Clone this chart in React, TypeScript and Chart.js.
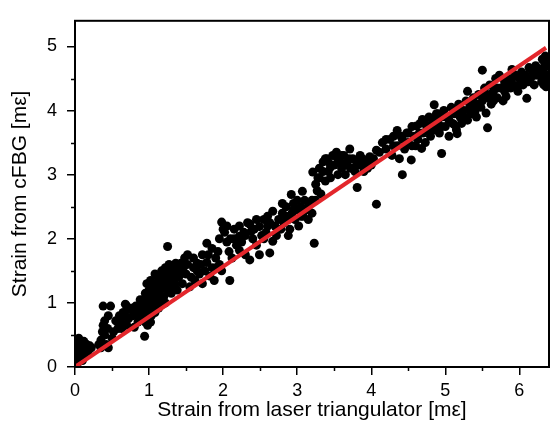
import React, { useEffect, useRef } from "react";
import { Chart, registerables } from "chart.js";

Chart.register(...registerables);

// Strain from laser triangulator [mε] (x) and strain from cFBG [mε] (y)
const laserStrain = [
  0.02, 0.03, 0.04, 0.05, 0.06, 0.08, 0.1, 0.12, 0.14, 0.16, 0.18, 0.2, 0.22, 0.05, 0.03, 0.1, 0.13, 0.07,
  0.32, 0.35, 0.37, 0.38, 0.4, 0.42, 0.45, 0.38, 0.48, 0.4, 0.44, 0.5, 0.52, 0.35,
  0.58, 0.6, 0.62, 0.65, 0.68, 0.7, 0.72, 0.75, 0.78, 0.8, 0.82, 0.85, 0.86, 0.7, 0.63,
  0.9, 0.9, 0.92, 0.95, 0.95, 0.97, 0.98, 1.0, 1.0, 1.0, 1.02, 1.03, 1.05, 1.05, 1.07, 1.08, 1.1, 1.1, 1.1, 1.12,
  1.13, 1.15, 1.15, 1.17, 1.18, 1.2, 1.2, 1.22, 1.23, 1.25, 1.25, 1.27, 1.28, 1.3, 1.3, 1.32, 1.33, 1.35, 1.37, 1.38,
  1.4, 1.02, 0.94, 1.13, 1.22, 0.88, 0.97, 1.08, 1.18,
  1.42, 1.45, 1.48, 1.5, 1.52, 1.55, 1.57, 1.6, 1.62, 1.65, 1.68, 1.7, 1.72, 1.75, 1.78, 1.78, 1.8, 1.82, 1.85, 1.88,
  1.9, 1.93, 1.95, 1.98, 1.25,
  1.98, 2.02, 2.05, 2.08, 2.1, 2.12, 2.15, 2.18, 2.22, 2.22, 2.22, 2.25, 2.28, 2.3, 2.33, 2.36, 2.36, 2.4, 2.42, 2.45,
  2.49, 2.49, 2.52, 2.55, 2.58, 2.6, 2.63, 2.63, 2.67, 2.7, 2.09, 1.95,
  2.72, 2.75, 2.78, 2.8, 2.82, 2.85, 2.88, 2.9, 2.92, 2.93, 2.95, 2.97, 3.0, 3.02, 3.05, 3.07, 3.08, 3.1, 3.12, 3.15,
  3.17, 3.2, 3.21, 3.23, 3.25, 3.25, 3.28, 3.3, 3.32, 3.35, 3.38, 3.4, 3.42, 3.45, 3.48, 3.5, 3.53, 3.55, 3.58, 3.6,
  3.63, 3.65, 3.68, 3.71, 3.72, 3.75, 3.78, 3.8, 3.81, 3.85, 3.88, 3.9, 3.93, 3.95, 3.98, 4.0, 4.03, 4.07, 4.07, 2.67,
  2.88,
  4.11, 4.15, 4.2, 4.25, 4.28, 4.3, 4.35, 4.35, 4.38, 4.42, 4.42, 4.45, 4.48, 4.5, 4.54, 4.55, 4.58, 4.6, 4.61, 4.63,
  4.66, 4.68, 4.69, 4.7, 4.73, 4.75, 4.78, 4.8, 4.82, 4.85, 4.85, 4.88, 4.9, 4.92, 4.95, 4.95, 4.98,
  5.0, 5.02, 5.05, 5.08, 5.1, 5.12, 5.15, 5.16, 5.18, 5.2, 5.22, 5.25, 5.28, 5.3, 5.3, 5.33, 5.35, 5.38, 5.4, 5.42,
  5.45, 5.48, 5.5, 5.5, 5.53, 5.55, 5.57, 5.58, 5.6, 5.62, 5.65, 5.68, 5.7, 5.73, 5.75, 5.78, 5.8, 5.82, 5.85, 5.88,
  5.9, 5.92, 5.95, 5.98, 6.0, 6.03, 6.05, 6.08, 6.1, 6.12, 6.13, 6.15, 6.18, 6.2, 6.22, 6.25, 6.28, 6.3, 6.31, 6.33,
  6.35, 6.36, 6.37, 6.35,
  0.92, 0.95, 0.98, 1.0, 1.03, 1.05, 1.07, 1.08, 1.12, 1.12, 1.15, 1.17, 1.2, 1.23, 1.26, 1.28, 1.3, 1.33, 1.35, 1.36,
  1.4, 1.43, 1.46, 0.78, 0.83, 0.68, 0.55, 0.45,
  1.52, 1.6, 1.65, 1.72, 1.85, 1.9, 2.0, 2.05, 2.15, 2.3, 2.38, 2.45, 2.55, 2.6,
  2.8, 2.85, 2.95, 3.0, 3.05, 3.1, 3.15, 3.2, 3.27, 3.3, 3.35, 3.38, 3.42, 3.45, 3.5, 3.55, 3.6, 3.65, 3.7, 3.75,
  3.85, 3.9,
  4.2, 4.3, 4.4, 4.5, 4.55, 4.65, 4.72, 4.78, 4.85, 4.9, 4.95,
  5.05, 5.12, 5.2, 5.25, 5.35, 5.4, 5.45, 5.52, 5.6, 5.65, 5.7, 5.8, 5.85, 5.9, 6.0, 6.05, 6.1, 6.15, 6.2, 6.25,
  6.3, 6.34, 6.36, 6.37, 6.33,
];

const cfbgStrain = [
  0.08, 0.15, 0.25, 0.35, 0.12, 0.2, 0.3, 0.4, 0.3, 0.35, 0.25, 0.33, 0.3, 0.45, 0.05, 0.1, 0.2, 0.3,
  0.35, 0.42, 0.55, 0.65, 0.5, 0.35, 0.3, 0.95, 0.95, 0.72, 0.6, 0.45, 0.55, 0.3,
  0.6, 0.8, 0.7, 0.85, 0.98, 0.65, 0.75, 0.9, 0.8, 0.62, 0.95, 0.7, 0.85, 0.95, 0.6,
  0.75, 0.95, 1.05, 0.85, 1.15, 1.3, 0.65, 0.9, 1.05, 1.2, 1.35, 0.8, 1.0, 1.15, 1.25, 1.45, 0.95, 1.1, 1.3, 1.4,
  1.2, 1.05, 1.35, 1.5, 1.25, 1.1, 1.4, 1.55, 1.3, 1.2, 1.45, 1.6, 1.35, 1.15, 1.5, 1.25, 1.42, 1.3, 1.55, 1.2,
  1.4, 0.7, 0.48, 0.92, 1.0, 1.05, 1.0, 0.85, 0.98,
  1.5, 1.3, 1.7, 1.45, 1.6, 1.25, 1.4, 1.55, 1.35, 1.5, 1.45, 1.6, 1.3, 1.5, 1.93, 1.63, 1.75, 1.42, 1.55, 1.35,
  1.7, 1.8, 1.6, 1.5, 1.88,
  2.26, 2.1, 1.95, 1.8, 2.0, 1.7, 2.15, 1.9, 2.2, 2.04, 1.82, 1.95, 2.1, 1.75, 2.25, 2.23, 1.67, 2.0, 2.15, 1.9,
  2.19, 1.75, 2.05, 2.3, 2.1, 2.35, 1.78, 2.25, 2.43, 2.2, 1.35, 2.0,
  2.05, 2.3, 2.15, 2.4, 2.25, 2.5, 2.3, 2.15, 2.69, 2.4, 2.55, 2.3, 2.45, 2.2, 2.5, 2.74, 2.35, 2.6, 2.45, 2.3,
  2.55, 2.4, 3.04, 1.93, 2.85, 2.6, 2.95, 3.1, 2.7, 3.2, 2.9, 3.25, 3.05, 2.95, 3.3, 3.15, 3.35, 3.0, 3.2, 3.1,
  3.3, 3.0, 3.2, 3.4, 3.1, 3.25, 3.05, 3.2, 2.8, 3.15, 3.25, 3.05, 3.2, 3.1, 3.28, 3.15, 3.25, 3.38, 2.54, 1.96,
  2.05,
  3.35, 3.5, 3.4, 3.55, 3.3, 3.6, 3.69, 3.45, 3.25, 3.0, 3.55, 3.4, 3.65, 3.5, 3.23, 3.75, 3.6, 3.45, 3.76, 3.55,
  3.8, 3.41, 3.86, 3.65, 3.5, 3.75, 3.9, 3.6, 3.8, 4.09, 3.7, 3.95, 3.8, 3.65, 3.33, 3.9, 4.0,
  3.75, 3.9, 3.6, 4.05, 3.8, 3.95, 3.7, 3.64, 4.1, 3.9, 3.8, 4.0, 4.15, 4.3, 3.85, 4.05, 3.95, 4.2, 4.1, 3.9,
  4.25, 4.05, 4.63, 4.15, 4.35, 3.96, 3.73, 4.2, 4.4, 4.1, 4.3, 4.5, 4.2, 4.55, 4.35, 4.15, 4.45, 4.22, 4.5, 4.35,
  4.64, 4.4, 4.55, 4.3, 4.5, 4.6, 4.4, 4.55, 4.19, 4.45, 4.67, 4.5, 4.6, 4.4, 4.7, 4.55, 4.65, 4.45, 4.8, 4.6,
  4.5, 4.37, 4.7, 4.85,
  0.85, 0.7, 1.1, 0.78, 1.12, 1.3, 0.92, 1.08, 1.25, 1.02, 1.2, 1.38, 1.25, 1.45, 1.32, 1.5, 1.38, 1.55, 1.45, 1.62,
  1.52, 1.62, 1.55, 0.92, 0.82, 0.8, 0.72, 0.8,
  1.75, 1.7, 1.62, 1.75, 1.85, 1.55, 2.15, 2.2, 2.0, 2.05, 2.12, 2.3, 2.0, 2.2,
  2.55, 2.35, 2.45, 2.6, 2.35, 2.45, 2.5, 2.6, 2.75, 2.95, 3.05, 3.25, 3.2, 3.12, 3.3, 3.25, 3.3, 3.15, 3.25, 3.1,
  3.3, 3.2,
  3.55, 3.45, 3.6, 3.65, 3.45, 3.65, 3.8, 3.7, 3.85, 3.95, 3.75,
  3.85, 3.78, 4.0, 3.9, 4.1, 3.98, 4.1, 4.25, 4.25, 4.15, 4.35, 4.3, 4.4, 4.5, 4.4, 4.55, 4.5, 4.65, 4.55, 4.65,
  4.6, 4.75, 4.55, 4.45, 4.4,
];

// Reference (1:1 fit) line end points
const fitLineX = [0, 6.36];
const fitLineY = [0, 4.98];

const xTickValues = [0, 1, 2, 3, 4, 5, 6];
const yTickValues = [0, 1, 2, 3, 4, 5];
const xMinorTickValues = [0.5, 1.5, 2.5, 3.5, 4.5, 5.5];
const yMinorTickValues = [0.5, 1.5, 2.5, 3.5, 4.5];

const xTitle = "Strain from laser triangulator [mε]";
const yTitle = "Strain from cFBG [mε]";

const FONT = "'Liberation Sans', Arial, Helvetica, sans-serif";

const framePlugin = {
  id: "frameMinor",
  afterDraw(chart: any) {
    const { ctx, chartArea: a, scales } = chart;
    const x = scales.x;
    const y = scales.y;
    ctx.save();
    ctx.strokeStyle = "#000";
    ctx.lineWidth = 1.5;
    ctx.beginPath();
    for (const v of xMinorTickValues) {
      const px = Math.round(x.getPixelForValue(v)) + 0.5;
      ctx.moveTo(px, a.bottom);
      ctx.lineTo(px, a.bottom + 4);
    }
    for (const v of yMinorTickValues) {
      const py = Math.round(y.getPixelForValue(v)) + 0.5;
      ctx.moveTo(a.left, py);
      ctx.lineTo(a.left - 4, py);
    }
    ctx.stroke();
    ctx.lineWidth = 2;
    ctx.strokeRect(a.left, a.top, a.right - a.left, a.bottom - a.top);
    ctx.restore();
  },
};

export default function App() {
  const canvasRef = useRef<HTMLCanvasElement | null>(null);

  useEffect(() => {
    document.body.style.margin = "0";
    const canvas = canvasRef.current;
    if (!canvas) return;

    const points = laserStrain.map((v, i) => ({ x: v, y: cfbgStrain[i] }));
    const fit = fitLineX.map((v, i) => ({ x: v, y: fitLineY[i] }));

    const chart = new Chart(canvas, {
      type: "scatter",
      data: {
        datasets: [
          {
            type: "line",
            label: "fit",
            data: fit,
            borderColor: "#e3262b",
            borderWidth: 4,
            pointRadius: 0,
            showLine: true,
            order: 0,
          } as any,
          {
            label: "data",
            data: points,
            backgroundColor: "#000",
            borderColor: "#000",
            borderWidth: 0,
            pointRadius: 4.5,
            order: 1,
          },
        ],
      },
      options: {
        responsive: false,
        animation: false,
        devicePixelRatio: 1,
        layout: { padding: { top: 13, right: 9, bottom: 0, left: 0 } },
        plugins: {
          legend: { display: false },
          tooltip: { enabled: false },
        },
        scales: {
          x: {
            type: "linear",
            min: 0,
            max: 6.4,
            afterBuildTicks: (scale: any) => {
              scale.ticks = xTickValues.map((v) => ({ value: v }));
            },
            afterFit: (scale: any) => {
              scale.height = 56;
            },
            grid: {
              drawOnChartArea: false,
              drawTicks: true,
              tickLength: 8,
              color: "#000",
              lineWidth: 1.5,
            },
            border: { color: "#000", width: 2 },
            ticks: {
              color: "#000",
              padding: 5,
              font: { family: FONT, size: 18 },
              maxRotation: 0,
              callback: (v: any) => String(v),
            },
            title: {
              display: true,
              text: xTitle,
              color: "#000",
              font: { family: FONT, size: 21 },
              padding: { top: 0, bottom: 0 },
            },
          },
          y: {
            type: "linear",
            min: 0,
            max: 5.4,
            afterBuildTicks: (scale: any) => {
              scale.ticks = yTickValues.map((v) => ({ value: v }));
            },
            afterFit: (scale: any) => {
              scale.width = 75;
            },
            grid: {
              drawOnChartArea: false,
              drawTicks: true,
              tickLength: 8,
              color: "#000",
              lineWidth: 1.5,
            },
            border: { color: "#000", width: 2 },
            ticks: {
              color: "#000",
              padding: 10,
              font: { family: FONT, size: 18 },
              callback: (v: any) => String(v),
            },
            title: {
              display: true,
              text: yTitle,
              color: "#000",
              font: { family: FONT, size: 21 },
              padding: { top: 8, bottom: 0 },
            },
          },
        },
      },
      plugins: [framePlugin],
    });

    return () => chart.destroy();
  }, []);

  return (
    <div style={{ width: 558, height: 423, background: "#fff" }}>
      <canvas ref={canvasRef} width={558} height={423} style={{ display: "block" }} />
    </div>
  );
}
